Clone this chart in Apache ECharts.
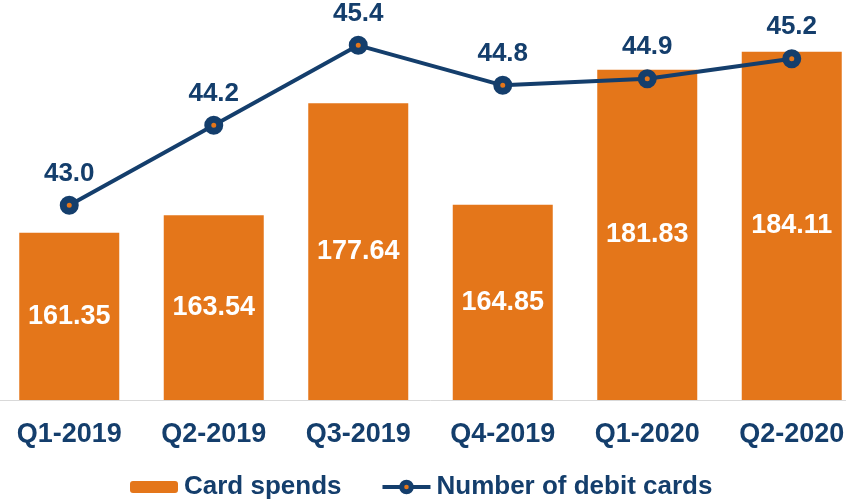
<!DOCTYPE html>
<html>
<head>
<meta charset="utf-8">
<script src="https://cdn.jsdelivr.net/npm/echarts@6/dist/echarts.min.js"></script>
<style>
    html, body { margin: 0; padding: 0; background: #fff; overflow: hidden; }
    #chart { width: 867px; height: 500px; margin-left: -3px; }
</style>
</head>
<body>
<div id="chart"></div>
<script>
    // data
    const quarters = ['Q1-2019', 'Q2-2019', 'Q3-2019', 'Q4-2019', 'Q1-2020', 'Q2-2020'];
    const cardSpends = [161.35, 163.54, 177.64, 164.85, 181.83, 184.11];
    const debitCards = [43.0, 44.2, 45.4, 44.8, 44.9, 45.2];

    const orange = '#E4761A';
    const navy = '#143E6C';
    const font = 'Liberation Sans, Arial, sans-serif';

    let chart = echarts.init(document.getElementById('chart'));
    let option = {
        animation: false,
        textStyle: { fontFamily: font },
        legend: {
            top: 469,
            left: 128,
            itemWidth: 48,
            itemHeight: 12,
            itemGap: 39,
            textStyle: { fontSize: 26, fontWeight: 'bold', color: navy, fontFamily: font, padding: [0, 0, 0, 1] },
            data: [
                'Card spends',
                {
                    name: 'Number of debit cards',
                    itemStyle: { color: orange, borderColor: navy, borderWidth: 5 },
                    lineStyle: { width: 4 }
                }
            ]
        },
        grid: { left: 0, right: 0, top: 20, bottom: 100, containLabel: false },
        xAxis: {
            type: 'category',
            data: quarters,
            axisLine: { lineStyle: { color: '#d9d9d9', width: 1 } },
            axisTick: { show: false },
            axisLabel: { margin: 21, fontSize: 27, fontWeight: 'bold', color: navy, fontFamily: font }
        },
        yAxis: [
            { type: 'value', min: 140.3, max: 188.1, show: false, splitLine: { show: false } },
            { type: 'value', min: 40.08, max: 45.78, show: false, splitLine: { show: false } }
        ],
        series: [
            {
                name: 'Card spends',
                type: 'bar',
                data: cardSpends,
                barWidth: 100,
                itemStyle: { color: orange },
                label: {
                    show: true,
                    position: 'inside',
                    color: '#fff',
                    fontSize: 27,
                    fontWeight: 'bold',
                    fontFamily: font,
                    formatter: p => p.value.toFixed(2)
                }
            },
            {
                name: 'Number of debit cards',
                type: 'line',
                yAxisIndex: 1,
                data: debitCards,
                symbol: 'circle',
                symbolSize: 12,
                lineStyle: { color: navy, width: 4 },
                itemStyle: { color: orange, borderColor: navy, borderWidth: 7 },
                label: {
                    show: true,
                    position: 'top',
                    distance: 9,
                    color: navy,
                    fontSize: 26,
                    fontWeight: 'bold',
                    fontFamily: font,
                    formatter: p => p.value.toFixed(1)
                }
            }
        ]
    };
    chart.setOption(option);
</script>
</body>
</html>
